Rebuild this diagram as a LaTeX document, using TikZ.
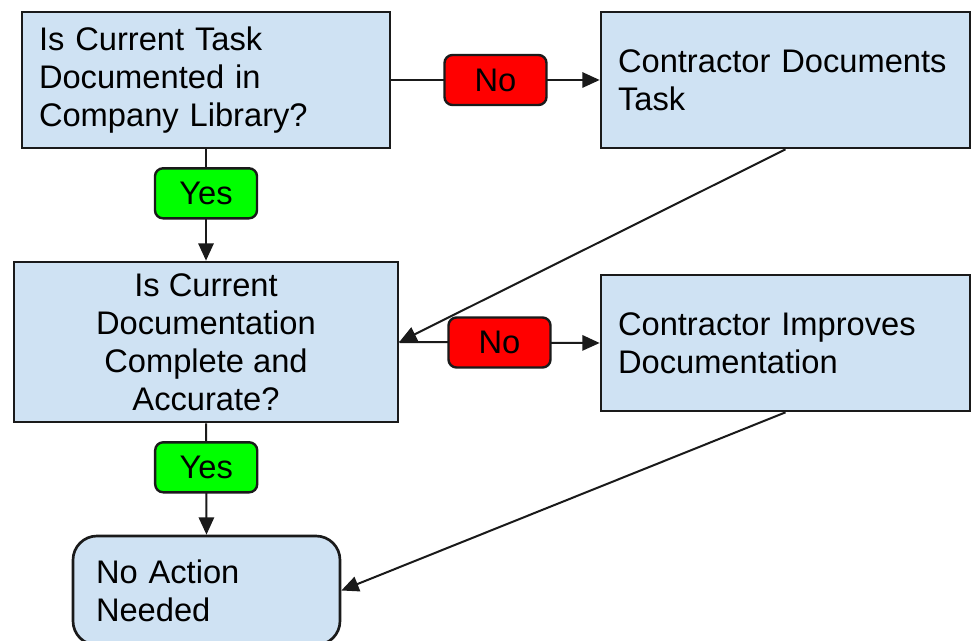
\documentclass[tikz,border=0pt]{standalone}
\usepackage{fontspec}
\setmainfont{Liberation Sans}
\usetikzlibrary{arrows.meta}
\definecolor{boxblue}{HTML}{CFE2F3}
\definecolor{edge}{HTML}{1A1A1A}
\tikzset{
  pbox/.style={draw=edge, line width=2pt, fill=boxblue, inner ysep=0pt,
    font=\fontsize{24.5pt}{28.5pt}\selectfont},
  leftbox/.style={pbox, align=left, inner xsep=12.75pt},
  lbl/.style={draw=edge, line width=1.8pt, rounded corners=6pt, minimum width=76.5pt,
    minimum height=37.5pt, inner sep=0pt, font=\fontsize{24.5pt}{28.5pt}\selectfont},
  nolbl/.style={lbl, fill=red},
  yeslbl/.style={lbl, fill=green},
  conn/.style={draw=edge, line width=1.5pt, -{Triangle[length=13pt,width=11.5pt]}}
}
\begin{document}
\begin{tikzpicture}[x=0.75pt, y=-0.75pt]
\clip (0,0) rectangle (971,641);
\fill[white] (0,0) rectangle (971,641);
\node[leftbox, minimum width=276pt, minimum height=102pt, text width=250.5pt] (b1) at (206,80)
  {Is Current Task\\Documented in\\Company Library?};
\node[leftbox, minimum width=276.75pt, minimum height=102pt, text width=251.25pt] (b2) at (785.5,80)
  {Contractor Documents\\Task};
\node[pbox, align=center, minimum width=288pt, minimum height=120pt] (b3) at (206,342)
  {Is Current\\Documentation\\Complete and\\Accurate?};
\node[leftbox, minimum width=276.75pt, minimum height=102pt, text width=251.25pt] (b4) at (785.5,343)
  {Contractor Improves\\Documentation};
\node[leftbox, rounded corners=18pt, inner xsep=17.25pt, minimum width=200.25pt, minimum height=81.75pt, text width=165.75pt] (b5) at (206.5,590.5)
  {No Action\\Needed};
\draw[conn] (b1.east) -- node[nolbl] (n1) {No} (b2.west);
\draw[conn] (b1.south) -- node[yeslbl, pos=0.395] (y1) {Yes} (b3.north);
\draw[conn] (b2.south) -- (b3.east);
\draw[conn] (b3.east) -- node[nolbl] (n2) {No} (b4.west);
\draw[conn] (b3.south) -- node[yeslbl, pos=0.395] (y2) {Yes} (b5.north);
\draw[conn] (b4.south) -- (b5.east);
\end{tikzpicture}
\end{document}
